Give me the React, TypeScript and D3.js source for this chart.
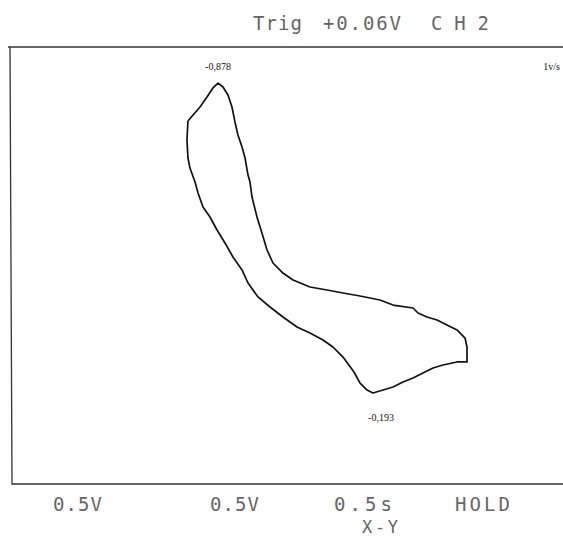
import React from "react";
import * as d3 from "d3";

const chX = [
  -0.891, -0.845, -0.782, -0.719, -0.665, -0.619, -0.574, -0.529, -0.493, -0.466,
  -0.439, -0.402, -0.375, -0.348, -0.33, -0.312, -0.267, -0.222, -0.176, -0.122,
  -0.032, 0.059, 0.212, 0.366, 0.511, 0.665, 0.845, 0.963, 1.144, 1.189,
  1.27, 1.361, 1.451, 1.542, 1.614, 1.632, 1.632, 1.542, 1.415, 1.325,
  1.234, 1.144, 1.053, 0.963, 0.873, 0.782, 0.728, 0.665, 0.61, 0.511,
  0.42, 0.33, 0.212, 0.095, -0.032, -0.149, -0.258, -0.348, -0.402, -0.484,
  -0.556, -0.628, -0.692, -0.755, -0.8, -0.827, -0.873, -0.891, -0.9, -0.891,
];
const chY = [
  1.323, 1.378, 1.451, 1.542, 1.625, 1.67, 1.634, 1.561, 1.451, 1.314,
  1.195, 1.085, 0.984, 0.828, 0.764, 0.627, 0.444, 0.297, 0.142, 0.023,
  -0.069, -0.133, -0.197, -0.224, -0.252, -0.279, -0.316, -0.362, -0.389, -0.435,
  -0.471, -0.499, -0.545, -0.59, -0.664, -0.746, -0.883, -0.883, -0.911, -0.938,
  -0.984, -1.03, -1.066, -1.112, -1.14, -1.167, -1.14, -1.076, -0.975, -0.838,
  -0.746, -0.682, -0.618, -0.563, -0.471, -0.38, -0.288, -0.16, -0.041, 0.078,
  0.206, 0.325, 0.444, 0.535, 0.664, 0.764, 0.892, 0.984, 1.149, 1.323,
];

// annotated points (peak labels)
const peakLabels = ["-0,878", "-0,193"];
const peakX = [-0.619, 0.782];
const peakY = [1.67, -1.167];

const headerLabels = ["Trig", "+0.06V", "CH2"];
const footerLabels = ["0.5V", "0.5V", "0.5s", "HOLD"];
const modeLabel = "X-Y";
const rateLabel = "1v/s";

export default function App() {
  const W = 563;
  const H = 542;
  const left = 10;
  const top = 47;
  const right = 563;
  const bottom = 484;

  const x = d3.scaleLinear().domain([-2.5, 2.5]).range([left, right]);
  const y = d3.scaleLinear().domain([-2, 2]).range([bottom, top]);

  const pts = chX.map((v, i) => [v, chY[i]] as [number, number]);
  const line = d3
    .line<[number, number]>()
    .x((d) => x(d[0]))
    .y((d) => y(d[1]));

  const mono = "'DejaVu Sans Mono', monospace";
  const textFill = "#666";

  const headerPos = [
    { x: 253, w: 49 },
    { x: 323, w: 78 },
    { x: 431, w: 58 },
  ];
  const footerPos = [
    { x: 53, w: 49 },
    { x: 210, w: 49 },
    { x: 334, w: 58 },
    { x: 455, w: 55 },
  ];

  return (
    <svg
      width={W}
      height={H}
      style={{ position: "absolute", left: 0, top: 0, background: "#fff" }}
    >
      <rect x={0} y={0} width={W} height={H} fill="#fff" />
      {/* screen frame */}
      <path
        d={`M${left - 2},${top} L${right},${top} M${left},${top} L${left + 2},${bottom} L${right},${bottom}`}
        fill="none"
        stroke="#333"
        strokeWidth={1.3}
      />
      {/* header */}
      {headerLabels.map((t, i) => (
        <text
          key={"h" + i}
          x={headerPos[i].x}
          y={30}
          fontFamily={mono}
          fontSize={19}
          fill={textFill}
          textLength={headerPos[i].w}
          lengthAdjust="spacing"
        >
          {t}
        </text>
      ))}
      {/* footer */}
      {footerLabels.map((t, i) => (
        <text
          key={"f" + i}
          x={footerPos[i].x}
          y={511}
          fontFamily={mono}
          fontSize={19}
          fill={textFill}
          textLength={footerPos[i].w}
          lengthAdjust="spacing"
        >
          {t}
        </text>
      ))}
      <text
        x={362}
        y={533}
        fontFamily={mono}
        fontSize={17}
        fill={textFill}
        textLength={36}
        lengthAdjust="spacing"
      >
        {modeLabel}
      </text>
      {/* trace */}
      <path
        d={line(pts) || ""}
        fill="none"
        stroke="#111"
        strokeWidth={1.7}
        strokeLinejoin="round"
      />
      {/* peak labels */}
      <text
        x={x(peakX[0])}
        y={y(peakY[0]) - 13}
        textAnchor="middle"
        fontFamily="'Liberation Serif', serif"
        fontSize={10}
        fill="#111"
      >
        {peakLabels[0]}
      </text>
      <text
        x={x(peakX[1]) + 8}
        y={y(peakY[1]) + 28}
        textAnchor="middle"
        fontFamily="'Liberation Serif', serif"
        fontSize={10}
        fill="#111"
      >
        {peakLabels[1]}
      </text>
      <text
        x={560}
        y={70}
        textAnchor="end"
        fontFamily="'Liberation Serif', serif"
        fontSize={10}
        fill="#111"
      >
        {rateLabel}
      </text>
    </svg>
  );
}
